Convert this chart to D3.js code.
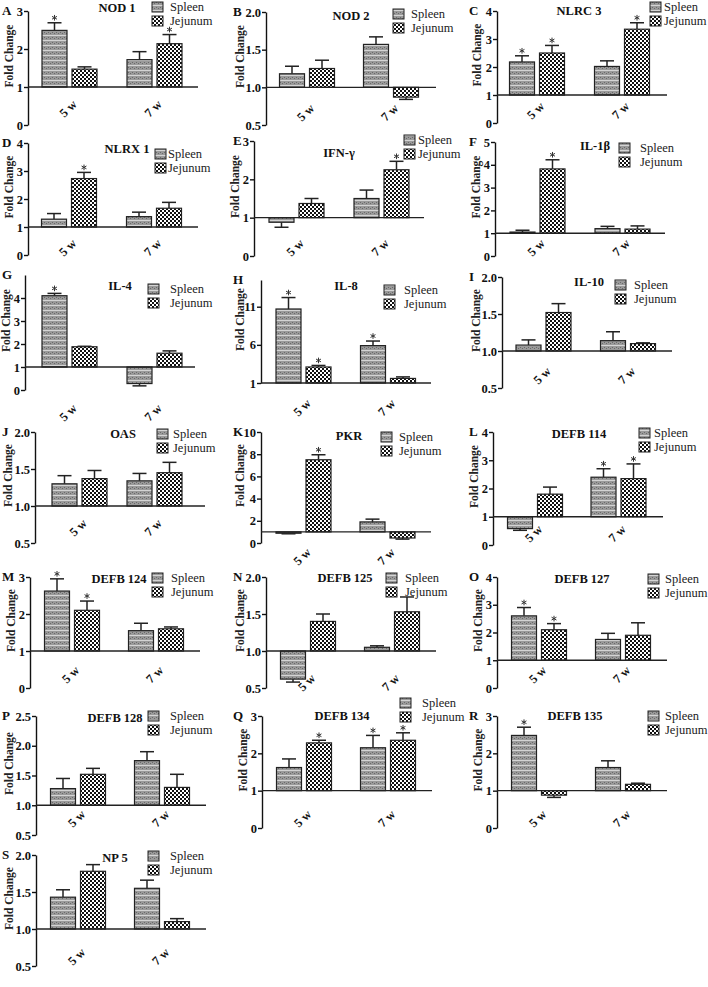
<!DOCTYPE html>
<html>
<head>
<meta charset="utf-8">
<title>Fold change panels</title>
<script src="https://d3js.org/d3.v7.min.js"></script>
<style>
  body { margin: 0; background: #fff; }
  svg text { font-family: "Liberation Serif", "Times New Roman", serif; }
  .tick text { font-weight: bold; font-size: 12.5px; fill: #111; }
</style>
</head>
<body>
<script>
// ---- data ----
var panelIds = ["A","B","C","D","E","F","G","H","I","J","K","L","M","N","O","P","Q","R","S"];
var genes = ["NOD 1","NOD 2","NLRC 3","NLRX 1","IFN-\u03b3","IL-1\u03b2","IL-4","IL-8","IL-10","OAS","PKR",
             "DEFB 114","DEFB 124","DEFB 125","DEFB 127","DEFB 128","DEFB 134","DEFB 135","NP 5"];
var weeks = ["5 w","7 w"];
var tissues = ["Spleen","Jejunum"];

// mean fold change [5 w, 7 w]
var spleenMean  = [[2.49,1.72],[1.18,1.57],[2.18,2.02],[1.28,1.37],[0.88,1.50],[1.05,1.20],[4.10,0.28],[10.7,5.9],
                   [1.08,1.14],[1.30,1.34],[0.88,1.90],[0.58,2.40],[2.62,1.55],[0.62,1.05],[2.60,1.75],[1.28,1.75],
                   [1.62,2.15],[2.48,1.62],[1.43,1.55]];
var jejunumMean = [[1.47,2.14],[1.25,0.87],[2.50,3.35],[2.73,1.67],[1.37,2.25],[3.82,1.18],[1.88,1.60],[3.1,1.6],
                   [1.52,1.10],[1.37,1.45],[7.50,0.45],[1.80,2.35],[2.10,1.60],[1.40,1.53],[2.10,1.90],[1.52,1.30],
                   [2.28,2.35],[0.88,1.17],[1.78,1.10]];
// error bar size
var spleenErr   = [[0.20,0.21],[0.10,0.10],[0.22,0.20],[0.20,0.16],[0.13,0.22],[0.08,0.10],[0.10,0.10],[1.5,0.6],
                   [0.07,0.12],[0.11,0.10],[0.05,0.25],[0.06,0.30],[0.33,0.20],[0.04,0.02],[0.30,0.22],[0.17,0.15],
                   [0.23,0.33],[0.22,0.18],[0.10,0.11]];
var jejunumErr  = [[0.06,0.24],[0.11,0.03],[0.27,0.23],[0.22,0.21],[0.13,0.22],[0.40,0.14],[0.02,0.10],[0.2,0.2],
                   [0.12,0.01],[0.11,0.14],[0.45,0.10],[0.25,0.52],[0.25,0.05],[0.10,0.20],[0.22,0.45],[0.10,0.22],
                   [0.07,0.20],[0.06,0.03],[0.09,0.04]];
// significance marks [5 w, 7 w]
var spleenStar  = [[1,0],[0,0],[1,0],[0,0],[0,0],[0,0],[1,0],[1,1],[0,0],[0,0],[0,0],[0,1],[1,0],[0,0],[1,0],[0,0],[0,1],[1,0],[0,0]];
var jejunumStar = [[0,1],[0,0],[1,1],[1,0],[0,1],[1,0],[0,0],[1,0],[0,0],[0,0],[1,0],[0,1],[1,0],[0,0],[1,0],[0,0],[1,1],[0,0],[0,0]];

var yDomains = [[0,3],[0.5,2],[0,4],[0,4],[0,3],[0,5],[0,5],[1,14.5],[0.5,2],[0.5,2],[0,10],[0,4],
                [0,3],[0.5,2],[0,4],[0.5,2.5],[0,3],[0,3],[0.5,2]];
var yTicks = [[0,1,2,3],[0.5,1,1.5,2],[0,1,2,3,4],[0,1,2,3,4],[0,1,2,3],[0,1,2,3,4,5],[0,1,2,3,4],[1,6,11],
              [0.5,1,1.5,2],[0.5,1,1.5,2],[0,2,4,6,8,10],[0,1,2,3,4],[0,1,2,3],[0.5,1,1.5,2],[0,1,2,3,4],
              [0.5,1,1.5,2,2.5],[0,1,2,3],[0,1,2,3],[0.5,1,1.5,2]];

// ---- layout (pixels) ----
var layout = [
  {ax:28,  top:11,  bottom:125, g1:41.5, g2:126.5, lab:102, tx:117, ty:12,  lx:152, ly:11,  lt:18, yl:15},
  {ax:266, top:12,  bottom:125, g1:41,   g2:125,   lab:106, tx:351, ty:20,  lx:393, ly:18,  lt:18, yl:22},
  {ax:497, top:11,  bottom:123, g1:40,   g2:125,   lab:104, tx:579, ty:15,  lx:650, ly:11,  lt:14, yl:16},
  {ax:28,  top:143, bottom:255, g1:41,   g2:126,   lab:241, tx:127, ty:153, lx:155, ly:158, lt:13, yl:15},
  {ax:254, top:141, bottom:256, g1:42.5, g2:127.5, lab:241, tx:339, ty:157, lx:404, ly:144, lt:14, yl:15},
  {ax:495, top:142, bottom:256, g1:42.5, g2:127.5, lab:241, tx:595, ty:150, lx:619, ly:152, lt:21, yl:15},
  {ax:25,  top:275, bottom:390, g1:44.5, g2:129.5, lab:406, tx:120, ty:290, lx:148, ly:293, lt:22, yl:15},
  {ax:261, top:280, bottom:383, g1:42.5, g2:127,   lab:401, tx:346, ty:290, lx:384, ly:294, lt:20, yl:17},
  {ax:502, top:277, bottom:388, g1:41.5, g2:126,   lab:369, tx:589, ty:286, lx:615, ly:289, lt:19, yl:22},
  {ax:35,  top:432, bottom:543, g1:44.5, g2:119.5, lab:521, tx:123, ty:438, lx:157, ly:438, lt:16, yl:23},
  {ax:261, top:432, bottom:543, g1:42.5, g2:126.5, lab:550, tx:349, ty:440, lx:381, ly:441, lt:18, yl:17},
  {ax:493, top:432, bottom:545, g1:42,   g2:125.5, lab:527, tx:579, ty:438, lx:639, ly:437, lt:15, yl:15},
  {ax:30,  top:577, bottom:688, g1:42,   g2:126,   lab:668, tx:119, ty:583, lx:152, ly:582, lt:19, yl:15},
  {ax:266, top:577, bottom:688, g1:42,   g2:126,   lab:676, tx:345, ty:582, lx:386, ly:582, lt:19, yl:22},
  {ax:497, top:577, bottom:688, g1:42,   g2:126,   lab:668, tx:582, ty:583, lx:648, ly:583, lt:17, yl:15},
  {ax:36,  top:716, bottom:835, g1:42,   g2:126,   lab:812, tx:115, ty:722, lx:148, ly:720, lt:22, yl:23},
  {ax:262, top:716, bottom:828, g1:42,   g2:126,   lab:812, tx:342, ty:720, lx:400, ly:707, lt:22, yl:15},
  {ax:497, top:716, bottom:828, g1:42,   g2:126,   lab:812, tx:575, ty:720, lx:648, ly:720, lt:17, yl:15},
  {ax:36,  top:855, bottom:966, g1:42,   g2:126,   lab:950, tx:115, ty:862, lx:148, ly:860, lt:22, yl:23}
];

var svg = d3.select("body").append("svg").attr("width",708).attr("height",987);

// fill patterns
var defs = svg.append("defs");
var ps = defs.append("pattern").attr("id","spl").attr("patternUnits","userSpaceOnUse").attr("width",4).attr("height",5);
ps.append("rect").attr("width",4).attr("height",5).attr("fill","#9a9a9a");
ps.append("rect").attr("width",4).attr("height",1).attr("fill","#d4d4d4");
ps.append("rect").attr("x",0).attr("y",2).attr("width",1).attr("height",1).attr("fill","#6a6a6a");
ps.append("rect").attr("x",2).attr("y",3).attr("width",1).attr("height",1).attr("fill","#6a6a6a");
var pj = defs.append("pattern").attr("id","jej").attr("patternUnits","userSpaceOnUse").attr("width",4).attr("height",4);
pj.append("rect").attr("width",4).attr("height",4).attr("fill","#111");
pj.append("rect").attr("x",0).attr("y",0).attr("width",2).attr("height",2).attr("fill","#fff");
pj.append("rect").attr("x",2).attr("y",2).attr("width",2).attr("height",2).attr("fill","#fff");
var fills = {Spleen:"url(#spl)", Jejunum:"url(#jej)"};
var star = d3.symbol().type(d3.symbolAsterisk).size(22);

panelIds.forEach(function(id, i){
  var L = layout[i];
  var g = svg.append("g");
  var y = d3.scaleLinear().domain(yDomains[i]).range([L.bottom, L.top]);
  var gx = d3.scalePoint().domain(weeks).range([L.ax + L.g1, L.ax + L.g2]);
  var sx = d3.scaleBand().domain(tissues).range([-27.5, 27.5]).paddingInner(1/6);
  var decimal = yTicks[i].some(function(t){ return t % 1 !== 0; });
  var fmt = decimal ? d3.format(".1f") : d3.format("d");

  var axis = g.append("g").attr("transform","translate(" + L.ax + ",0)")
    .call(d3.axisLeft(y).tickValues(yTicks[i]).tickFormat(fmt).tickSize(4).tickSizeOuter(0).tickPadding(1));
  axis.select(".domain").attr("stroke","#111").attr("stroke-width",1.4);
  axis.selectAll(".tick line").attr("stroke","#111").attr("stroke-width",1.4);
  axis.selectAll(".tick text").attr("font-family","Liberation Serif");

  var base = y(1);
  var rows = [];
  weeks.forEach(function(w, k){
    rows.push({w:w, t:"Spleen",  v:spleenMean[i][k],  e:spleenErr[i][k],  s:spleenStar[i][k]});
    rows.push({w:w, t:"Jejunum", v:jejunumMean[i][k], e:jejunumErr[i][k], s:jejunumStar[i][k]});
  });

  rows.forEach(function(r){
    var x0 = gx(r.w) + sx(r.t), bw = sx.bandwidth(), cx = x0 + bw/2;
    var up = r.v >= 1;
    var yEnd = y(up ? r.v + r.e : r.v - r.e);
    g.append("line").attr("x1",cx).attr("x2",cx).attr("y1",y(r.v)).attr("y2",yEnd)
      .attr("stroke","#222").attr("stroke-width",1.5);
    g.append("line").attr("x1",cx-7).attr("x2",cx+7).attr("y1",yEnd).attr("y2",yEnd)
      .attr("stroke","#222").attr("stroke-width",1.5);
    g.append("rect").attr("x",x0).attr("width",bw)
      .attr("y",Math.min(y(r.v), base)).attr("height",Math.abs(y(r.v) - base))
      .attr("fill",fills[r.t]).attr("stroke","#222").attr("stroke-width",1.2);
    if (r.s) {
      var sy = up ? yEnd : y(r.v);
      g.append("path").attr("d",star).attr("transform","translate(" + cx + "," + (sy - 5) + ")")
        .attr("fill","none").attr("stroke","#333").attr("stroke-width",1);
    }
  });

  // baseline at fold change 1
  g.append("line").attr("x1",L.ax).attr("x2",L.ax + 170).attr("y1",base).attr("y2",base)
    .attr("stroke","#222").attr("stroke-width",1.4);

  // week labels
  weeks.forEach(function(w){
    var ax = gx(w) + 5;
    g.append("text").attr("transform","translate(" + ax + "," + L.lab + ") rotate(-45)")
      .attr("text-anchor","end").attr("dy","0.35em")
      .attr("font-weight","bold").attr("font-size",12.5).attr("fill","#111").text(w);
  });

  // y label
  g.append("text").attr("transform","translate(" + (L.ax - L.yl) + "," + ((L.top + L.bottom)/2 - 12) + ") rotate(-90)")
    .attr("text-anchor","middle").attr("font-weight","bold").attr("font-size",11.5).attr("fill","#222")
    .text("Fold Change");

  // title
  g.append("text").attr("x",L.tx).attr("y",L.ty).attr("text-anchor","middle")
    .attr("font-weight","bold").attr("font-size",12.5).attr("fill","#111").text(genes[i]);

  // legend
  tissues.forEach(function(t, k){
    var yy = L.ly + k*14;
    g.append("rect").attr("x",L.lx).attr("y",yy - 9).attr("width",11).attr("height",10)
      .attr("fill",fills[t]).attr("stroke","#222").attr("stroke-width",1);
    g.append("text").attr("x",L.lx + L.lt).attr("y",yy).attr("font-size",12.5).attr("fill","#222").text(t);
  });

  // panel letter
  var col = i % 3;
  var px = col === 0 ? 2 : col * 236 - 3;
  g.append("text").attr("x",px).attr("y",L.top + 4).attr("font-family","Liberation Sans")
    .attr("font-weight","bold").attr("font-size",13).attr("fill","#111").text(id);
});
</script>
</body>
</html>
